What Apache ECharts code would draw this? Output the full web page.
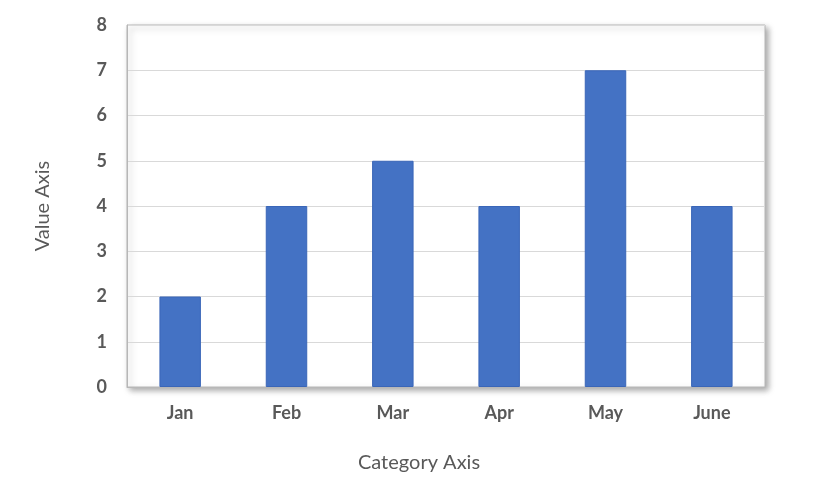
<!DOCTYPE html>
<html>
<head>
<meta charset="utf-8">
<script src="https://cdn.jsdelivr.net/npm/echarts@6/dist/echarts.min.js"></script>
<style>
  html, body { margin: 0; padding: 0; background: #fff; }
  #main { width: 832px; height: 495px; }
</style>
</head>
<body>
<div id="main"></div>
<script>
var categories = ['Jan', 'Feb', 'Mar', 'Apr', 'May', 'June'];
var values = [2, 4, 5, 4, 7, 4];

var myChart = echarts.init(document.getElementById('main'));
var font = 'Lato, "Open Sans", sans-serif';
var option = {
  animation: false,
  textStyle: { fontFamily: font },
  grid: {
    left: 127, right: 67, top: 25, bottom: 108,
    show: true,
    backgroundColor: '#fff',
    borderColor: '#b7b7b7',
    borderWidth: 1,
    shadowColor: 'rgba(0,0,0,0.35)',
    shadowBlur: 6,
    shadowOffsetX: 3,
    shadowOffsetY: 3
  },
  xAxis: {
    type: 'category',
    data: categories,
    name: 'Category Axis',
    nameLocation: 'middle',
    nameGap: 66,
    nameTextStyle: { fontSize: 20, color: '#595959', fontFamily: font, padding: [0, 54, 0, 0] },
    axisLine: { show: true, lineStyle: { color: '#b7b7b7' } },
    axisTick: { show: false },
    axisLabel: { margin: 17, fontSize: 18, fontWeight: 'bold', color: '#595959', fontFamily: font }
  },
  yAxis: {
    type: 'value',
    min: 0, max: 8, interval: 1,
    name: 'Value Axis',
    nameLocation: 'middle',
    nameGap: 74,
    nameRotate: 90,
    nameTextStyle: { fontSize: 20, color: '#595959', fontFamily: font },
    axisLine: { show: true, lineStyle: { color: '#b7b7b7' } },
    axisLabel: { margin: 20, fontSize: 18, fontWeight: 'bold', color: '#595959', fontFamily: font },
    splitLine: { lineStyle: { color: '#d9d9d9' } }
  },
  series: [{
    type: 'bar',
    data: values,
    barWidth: '39%',
    itemStyle: { color: '#4472C4', borderColor: '#3a66b8', borderWidth: 1 }
  }]
};
myChart.setOption(option);
</script>
</body>
</html>
